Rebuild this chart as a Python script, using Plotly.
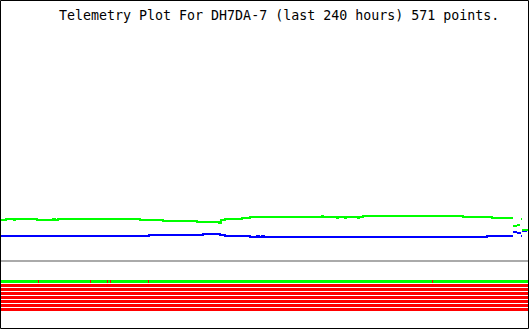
import plotly.graph_objects as go

# ---- data (x = hours relative to now, y = telemetry level) ----
TITLE = "Telemetry Plot For DH7DA-7 (last 240 hours) 571 points."

# green channel: step changes (hour, level); segments separated by None
green_hours = [-240.0, -237.27, -233.64, -233.18, -223.18, -215.91, -215.0, -213.64,
               -176.36, -165.91, -150.45, -140.45, -139.55, -137.73, -130.0, -126.36,
               -93.64, -93.18, -86.82, -86.36, -83.18, -82.73, -77.27, -76.82,
               -75.0, -29.55, -16.36, -6.82, None,
               -6.82, -5.0, None, -5.0, -3.64, None, -3.18, -2.73, None, -2.73, 0.45]
green_level = [110, 111, 110, 111, 110, 111, 110, 111,
               110, 109, 108, 107, 110, 111, 112, 113,
               114, 113, 112, 113, 112, 113, 112, 113,
               114, 113, 112, 112, None,
               104, 104, None, 105, 105, None, 111, 111, None, 100, 100]

# blue channel
blue_hours = [-240.0, -172.27, -147.73, -140.0, -137.73, -126.36,
              -125.45, -123.18, -122.27, -120.91, -120.0, -18.64, -6.82, None,
              -6.82, -5.0, None, -5.0, -3.18, None, -3.18, -2.73, None, -2.73, -0.45]
blue_level = [94, 95, 96, 95, 94, 93,
              93, 94, 93, 94, 93, 94, 94, None,
              98, 98, None, 97, 97, None, 94, 94, None, 99, 99]

baseline_level = 69

# digital bits: steady state of each of the 8 bits, and hours where bit 1 was 0
bit_states = [1, 0, 0, 0, 0, 0, 0, 0]
bit1_zero_hours = [-222.5, -198.86, -191.14, -189.77, -172.5, -43.41]
bits_top_level = 48.5
bit_spacing = 4

HOURS_START, HOURS_END = -240.0, 0.0

fig = go.Figure()

fig.add_trace(go.Scatter(x=blue_hours, y=blue_level, mode="lines",
                         line=dict(color="#0000ff", width=2, shape="hv"),
                         connectgaps=False, hoverinfo="skip"))
fig.add_trace(go.Scatter(x=green_hours, y=green_level, mode="lines",
                         line=dict(color="#00ff00", width=2, shape="hv"),
                         connectgaps=False, hoverinfo="skip"))

# bit rows
for i, s in enumerate(bit_states):
    lvl = bits_top_level - i * bit_spacing
    fig.add_trace(go.Scatter(x=[HOURS_START, HOURS_END], y=[lvl, lvl], mode="lines",
                             line=dict(color="#00ff00" if s else "#ff0000", width=3),
                             hoverinfo="skip"))
tx, ty = [], []
for h in bit1_zero_hours:
    tx += [h, h, None]
    ty += [bits_top_level + 1.5, bits_top_level - 1.5, None]
fig.add_trace(go.Scatter(x=tx, y=ty, mode="lines",
                         line=dict(color="#ff0000", width=1), hoverinfo="skip"))

W, H = 530, 330
fig.add_shape(type="line", xref="x", yref="y", x0=HOURS_START, x1=HOURS_END,
              y0=baseline_level, y1=baseline_level,
              line=dict(color="#aaaaaa", width=2), layer="below")
fig.add_shape(type="rect", xref="paper", yref="paper",
              x0=0.5 / W, x1=528.5 / W, y0=1 - 328.5 / H, y1=1 - 0.5 / H,
              line=dict(color="black", width=1))

fig.add_annotation(text=TITLE, xref="paper", yref="paper",
                   x=278.5 / W, y=1 - 16 / H, xanchor="center", yanchor="middle",
                   showarrow=False,
                   font=dict(family="DejaVu Sans Mono", size=13.3, color="black"))

fig.update_layout(
    width=W, height=H, margin=dict(l=0, r=0, t=0, b=0, pad=0),
    paper_bgcolor="white", plot_bgcolor="white", showlegend=False,
    xaxis=dict(range=[-240.0, -240.0 + W / 2.2], visible=False, fixedrange=True),
    yaxis=dict(range=[0, H], visible=False, fixedrange=True),
)
fig.write_html("out.html")
